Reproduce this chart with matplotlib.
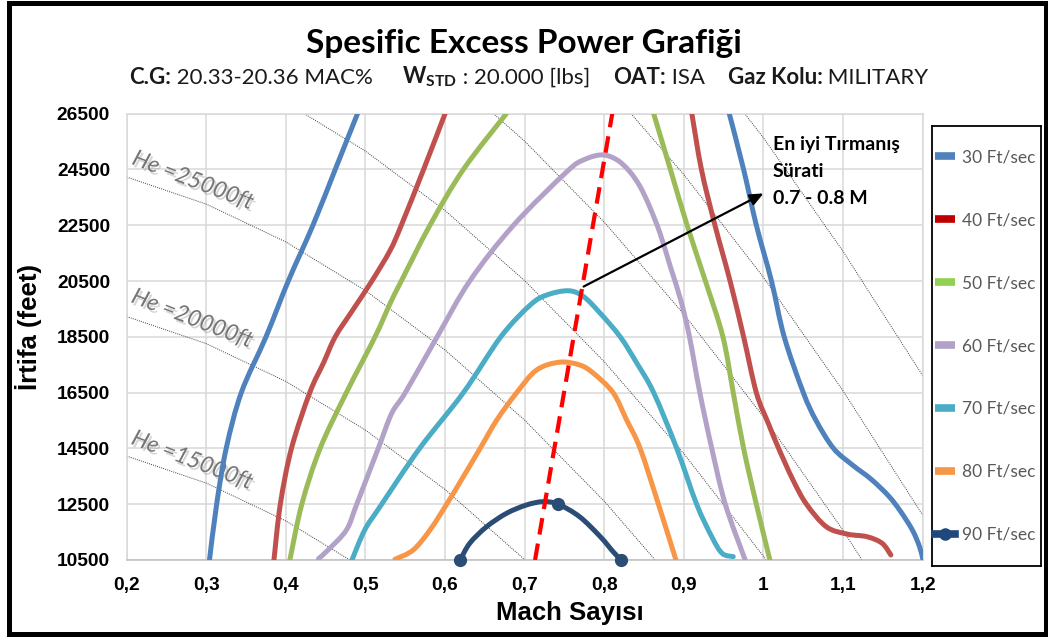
import numpy as np
import matplotlib
matplotlib.use("Agg")
import matplotlib.pyplot as plt
import matplotlib.patheffects as pe
from matplotlib.lines import Line2D
from matplotlib.patches import Rectangle, PathPatch
from matplotlib.path import Path
from matplotlib.legend_handler import HandlerLine2D
from matplotlib.offsetbox import TextArea, HPacker, AnchoredOffsetbox

plt.rcParams['font.family'] = ['Lato', 'DejaVu Sans']
plt.rcParams['mathtext.fontset'] = 'custom'
plt.rcParams['mathtext.bf'] = 'Lato:bold'
plt.rcParams['mathtext.rm'] = 'Lato'

nan = np.nan

# egri verileri (Mach, irtifa ft) - nan iki kolu ayirir
m30 = [0.304, 0.313, 0.325, 0.344, 0.375, 0.403, 0.434, 0.462, 0.490, nan,
       0.957, 0.975, 0.991, 1.010, 1.026, 1.050, 1.066, 1.088, 1.112, 1.135,
       1.157, 1.172, 1.187, 1.196, 1.200]
h30 = [10500, 12500, 14500, 16500, 18500, 20500, 22500, 24500, 26500, nan,
       26500, 24500, 22500, 20500, 18500, 16500, 15500, 14500, 13900, 13400,
       12800, 12250, 11575, 10980, 10550]

m40 = [0.385, 0.393, 0.407, 0.430, 0.447, 0.462, 0.484, 0.508, 0.531, 0.545,
       0.573, 0.600, nan, 0.910, 0.922, 0.939, 0.958, 0.975, 0.991, 1.006,
       1.019, 1.037, 1.054, 1.079, 1.105, 1.130, 1.149, 1.160]
h40 = [10500, 12500, 14500, 16500, 17550, 18500, 19460, 20500, 21600, 22500,
       24500, 26500, nan, 26500, 24500, 22500, 20500, 18500, 16500, 15400,
       14500, 13370, 12500, 11690, 11430, 11335, 11100, 10680]

m50 = [0.405, 0.420, 0.443, 0.476, 0.512, 0.531, 0.545, 0.581, 0.623, 0.677, nan,
       0.862, 0.883, 0.904, 0.927, 0.949, 0.962, 0.975, 0.991, 1.008]
h50 = [10500, 12500, 14500, 16500, 18500, 19700, 20500, 22500, 24500, 26500, nan,
       26500, 24500, 22500, 20500, 18500, 16500, 14500, 12500, 10500]

m60 = [0.441, 0.453, 0.476, 0.489, 0.516, 0.533, 0.550, 0.590, 0.631, 0.686,
       0.753, 0.774, 0.797, 0.816, 0.832, 0.845, 0.857, 0.870,
       0.883, 0.896, 0.907, 0.920, 0.935, 0.952, 0.977]
h60 = [10550, 10860, 11575, 12500, 14500, 15760, 16500, 18500, 20500, 22500,
       24420, 24840, 25020, 24840, 24420, 23880, 23160, 22210,
       21010, 19820, 18500, 16500, 14500, 12500, 10500]

m70 = [0.483, 0.499, 0.518, 0.568, 0.623, 0.670, 0.707, 0.728, 0.755, 0.774,
       0.795, 0.820, 0.841, 0.862, 0.891, 0.916, 0.935, 0.948, 0.962]
h70 = [10500, 11575, 12400, 14500, 16500, 18500, 19640, 20000, 20150, 19940,
       19340, 18500, 17550, 16500, 14500, 12500, 11335, 10740, 10620]

m80 = [0.537, 0.560, 0.581, 0.602, 0.623, 0.644, 0.665, 0.690, 0.715, 0.744,
       0.769, 0.786, 0.811, 0.828, 0.845, 0.868, 0.890]
h80 = [10525, 10860, 11575, 12500, 13490, 14500, 15520, 16500, 17310, 17590,
       17490, 17200, 16500, 15520, 14500, 12500, 10500]

m90 = [0.619, 0.631, 0.652, 0.677, 0.702, 0.723, 0.742, 0.769, 0.795, 0.811, 0.821]
h90 = [10500, 11100, 11690, 12170, 12470, 12590, 12500, 12050, 11335, 10800, 10500]
m90_points = [0, 6, 10]  # veri noktasi isaretleri

# en iyi tirmanis hatti
best_m = [0.713, 0.810]
best_h = [10500, 26500]

# enerji yuksekligi (He) cizgileri
he_15000_m = [0.2, 0.3, 0.4, 0.5]
he_15000_h = [14225, 13255, 11900, 10155]
he_20000_m = [0.2, 0.3, 0.4, 0.5, 0.6, 0.7, 0.8]
he_20000_h = [19225, 18255, 16900, 15155, 13025, 10510, 7605]
he_25000_m = [0.2, 0.3, 0.4, 0.5, 0.6, 0.7, 0.8, 0.9]
he_25000_h = [24225, 23255, 21900, 20155, 18025, 15510, 12605, 9310]
he_30000_m = [0.4, 0.5, 0.6, 0.7, 0.8, 0.9, 1.0, 1.1]
he_30000_h = [26900, 25155, 23025, 20510, 17605, 14310, 10630, 6560]
he_35000_m = [0.6, 0.7, 0.8, 0.9, 1.0, 1.1, 1.2]
he_35000_h = [28025, 25510, 22605, 19310, 15630, 11560, 7105]
he_40000_m = [0.8, 0.9, 1.0, 1.1, 1.2]
he_40000_h = [27605, 24310, 20630, 16560, 12105]
he_45000_m = [0.9, 1.0, 1.1, 1.2]
he_45000_h = [29310, 25630, 21560, 17105]

labels = ['30 Ft/sec', '40 Ft/sec', '50 Ft/sec', '60 Ft/sec',
          '70 Ft/sec', '80 Ft/sec', '90 Ft/sec']
line_colors = ['#4F81BD', '#C0504D', '#9BBB59', '#B3A2C7', '#4BACC6', '#F79646', '#2B4C74']
legend_colors = ['#4F81BD', '#C00000', '#92D050', '#B3A2C7', '#4BACC6', '#F79646', '#1F497D']

x_ticks = [0.2, 0.3, 0.4, 0.5, 0.6, 0.7, 0.8, 0.9, 1.0, 1.1, 1.2]
x_tick_labels = ['0,2', '0,3', '0,4', '0,5', '0,6', '0,7', '0,8', '0,9', '1', '1,1', '1,2']
y_ticks = [10500, 12500, 14500, 16500, 18500, 20500, 22500, 24500, 26500]


def smooth_path(xs, ys):
    # excel'deki gibi yumusak cizgi: noktalardan gecen bezier
    xs = np.asarray(xs, float)
    ys = np.asarray(ys, float)
    verts, codes = [], []
    breaks = np.where(np.isnan(xs))[0]
    starts = np.r_[0, breaks + 1]
    ends = np.r_[breaks, len(xs)]
    for a, b in zip(starts, ends):
        p = np.column_stack([xs[a:b], ys[a:b]])
        n = len(p)
        verts.append(p[0])
        codes.append(Path.MOVETO)
        for i in range(n - 1):
            p0 = p[i - 1] if i > 0 else p[i]
            p3 = p[i + 2] if i + 2 < n else p[i + 1]
            c1 = p[i] + (p[i + 1] - p0) / 6
            c2 = p[i + 1] - (p3 - p[i]) / 6
            verts += [c1, c2, p[i + 1]]
            codes += [Path.CURVE4] * 3
    return Path(verts, codes)


class RightMarker(HandlerLine2D):
    # isaret cizginin sag ucunda
    def get_xdata(self, legend, xdescent, ydescent, width, height, fontsize):
        return [-xdescent, -xdescent + width], [-xdescent + width - 3]


W, H = 1048, 641
fig = plt.figure(figsize=(W / 100, H / 100), dpi=100)
ax = fig.add_axes([126.7 / W, 1 - 560 / H, 796 / W, 446.4 / H])
ax.set_xlim(0.2, 1.2)
ax.set_ylim(10500, 26500)
ax.set_xticks(x_ticks)
ax.set_xticklabels(x_tick_labels)
ax.set_yticks(y_ticks)
ax.grid(color='#D9D9D9', lw=1.1)
ax.set_axisbelow(True)
for s in ax.spines.values():
    s.set_color('#D9D9D9')
    s.set_linewidth(1.1)
ax.spines['bottom'].set_color('#BFBFBF')
ax.tick_params(length=0, pad=12)
for lab in ax.get_xticklabels() + ax.get_yticklabels():
    lab.set_fontfamily('Liberation Sans')
    lab.set_fontweight('bold')
    lab.set_fontsize(13.8)

# He cizgileri
he_sets = [(he_15000_m, he_15000_h), (he_20000_m, he_20000_h), (he_25000_m, he_25000_h),
           (he_30000_m, he_30000_h), (he_35000_m, he_35000_h), (he_40000_m, he_40000_h),
           (he_45000_m, he_45000_h)]
for hm, hh in he_sets:
    ax.plot(hm, hh, color='#404040', lw=0.7, ls=(0, (1, 1.2)), zorder=1)

he_labels = [('He =25000ft', 0.283, 24100), ('He =20000ft', 0.282, 19150), ('He =15000ft', 0.282, 14070)]
for txt, lm, lh in he_labels:
    ax.text(lm, lh, txt, fontsize=16.5, style='italic', color='#767676', rotation=-21,
            ha='center', va='center', rotation_mode='anchor', zorder=2,
            path_effects=[pe.SimplePatchShadow(offset=(1.5, -2), shadow_rgbFace='#8C8C8C', alpha=0.35),
                          pe.Normal()])

series = [(m30, h30), (m40, h40), (m50, h50), (m60, h60), (m70, h70), (m80, h80), (m90, h90)]
for (mm, hh), c in zip(series, line_colors):
    ax.add_patch(PathPatch(smooth_path(mm, hh), fill=False, ec=c, lw=3.6,
                           capstyle='round', joinstyle='round', zorder=3))
ax.plot(np.take(m90, m90_points), np.take(h90, m90_points), ls='none', marker='o', ms=8.5,
        color=line_colors[6], zorder=4, clip_on=False)

ax.plot(best_m, best_h, color='#FF0000', lw=3, dashes=(4, 2.2), zorder=5)

ax.annotate('', xy=(1.0, 23640), xytext=(0.774, 20300),
            arrowprops=dict(arrowstyle='-|>,head_length=0.8,head_width=0.35', color='black',
                            lw=1.6, shrinkA=0, shrinkB=0), zorder=6)
ax.text(1.012, 25680, 'En iyi Tırmanış\nSürati\n0.7 - 0.8 M', fontsize=14, fontweight='bold',
        ha='left', va='top', linespacing=1.7, zorder=6)

ax.set_xlabel('Mach Sayısı', fontfamily='Liberation Sans', fontweight='bold', fontsize=18.5)
ax.xaxis.set_label_coords((570 - 126.7) / 796, -(601 - 560) / 446.4)
ax.set_ylabel('İrtifa (feet)', fontfamily='Liberation Sans', fontweight='bold', fontsize=18.5)
ax.yaxis.set_label_coords(-(126.7 - 42) / 796, (560 - 327) / 446.4)

# baslik
fig.text(0.5, 1 - 43 / H, 'Spesific Excess Power Grafiği', ha='center', va='center',
         fontsize=24, fontweight='bold', color='black')

sub_parts = [('C.G:', 'bold'), (' 20.33-20.36 MAC%', 'normal'), ('     ', 'normal'),
             (r'$\mathbf{W_{STD}}$', 'bold'), (' : 20.000 [lbs]', 'normal'), ('    ', 'normal'),
             ('OAT:', 'bold'), (' ISA', 'normal'), ('    ', 'normal'),
             ('Gaz Kolu:', 'bold'), (' MILITARY', 'normal')]
boxes = [TextArea(t, textprops=dict(fontsize=16, fontweight=w, color='#1A1A1A')) for t, w in sub_parts]
pack = HPacker(children=boxes, align='baseline', pad=0, sep=0)
anc = AnchoredOffsetbox(loc='center', child=pack, pad=0, borderpad=0, frameon=False,
                        bbox_to_anchor=(529 / W, 1 - 77 / H), bbox_transform=fig.transFigure)
fig.add_artist(anc)

# lejant
lax = fig.add_axes([932 / W, 1 - 566 / H, 109 / W, 440 / H])
lax.set_xticks([])
lax.set_yticks([])
for s in lax.spines.values():
    s.set_color('black')
    s.set_linewidth(1.3)
handles = [Line2D([], [], color=c, lw=5.5, solid_capstyle='butt') for c in legend_colors[:6]]
h90_leg = Line2D([], [], color=legend_colors[6], lw=5.5, marker='o', ms=8)
handles.append(h90_leg)
lax.legend(handles, labels, loc='center left', bbox_to_anchor=(0, 0.5), frameon=False,
           borderaxespad=0, borderpad=0.15, handlelength=1.15, handletextpad=0.4,
           labelspacing=2.7, fontsize=12.5, labelcolor='#595959',
           handler_map={h90_leg: RightMarker()})

fig.add_artist(Rectangle((9 / W, 1 - 634 / H), 1037 / W, 631 / H, transform=fig.transFigure,
                         fill=False, ec='black', lw=3.6))

fig.savefig('out.png', dpi=100)
